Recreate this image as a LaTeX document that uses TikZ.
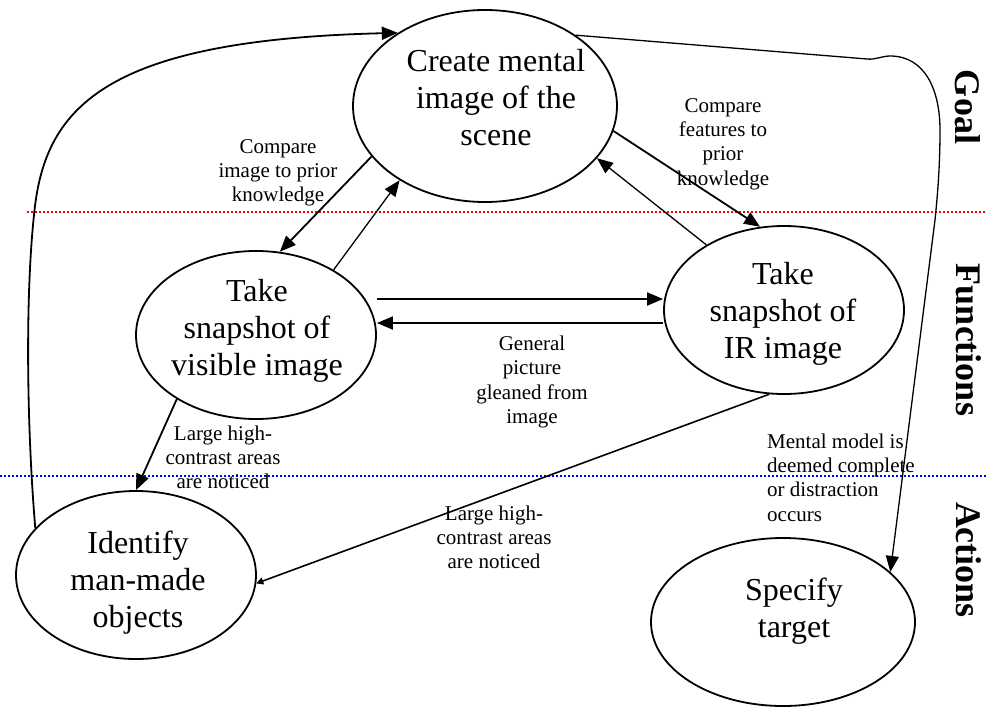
\documentclass[tikz,border=0pt]{standalone}
\usepackage{fontspec}
\setmainfont{Liberation Serif}
\usetikzlibrary{arrows.meta,shapes.geometric}
\begin{document}
\begin{tikzpicture}[x=1pt,y=-1pt,
  bubble/.style={draw,ellipse,line width=1.8pt,inner sep=0pt},
  bigtext/.style={align=center,inner sep=0pt,font=\fontsize{32}{37}\selectfont},
  note/.style={align=center,inner sep=0pt,font=\fontsize{21}{24.3}\selectfont},
  band/.style={rotate=-90,inner sep=0pt,font=\fontsize{36}{40}\selectfont\bfseries},
  flow/.style={line width=1.8pt,-{Triangle[length=16pt,width=13pt]}},
  thinflow/.style={line width=1.3pt,-{Triangle[length=16pt,width=13pt]}},
  smallflow/.style={line width=1.6pt,-{Triangle[length=7pt,width=7pt]}},
  reddiv/.style={red,line width=1.5pt,dash pattern=on 2pt off 2pt},
  bluediv/.style={blue,line width=1.5pt,dash pattern=on 2pt off 2pt}
]
\useasboundingbox (0,0) rectangle (986,707);

% level dividers
\coordinate (redL) at (27,212);  \coordinate (redR) at (986,212);
\coordinate (blueL) at (0,476);  \coordinate (blueR) at (986,476);
\draw[reddiv] (redL) -- (redR);
\draw[bluediv] (blueL) -- (blueR);

% level names
\node[band] (goal) at (968,107) {Goal};
\node[band] (functions) at (969,340) {Functions};
\node[band] (actions) at (969,560) {Actions};

% process bubbles
\node[bubble,minimum width=264pt,minimum height=192pt] (create) at (485,106) {};
\node[bigtext] (createtxt) at (496,98) {Create mental\\image of the\\scene};

\node[bubble,minimum width=240pt,minimum height=168pt] (vis) at (256,335) {};
\node[bigtext] (vistxt) at (257,330.5) {Take\\snapshot of\\visible image};

\node[bubble,minimum width=240pt,minimum height=168pt] (ir) at (784,310) {};
\node[bigtext] (irtxt) at (783,314) {Take\\snapshot of\\IR image};

\node[bubble,minimum width=240pt,minimum height=168pt] (id) at (136,575) {};
\node[bigtext] (idtxt) at (138,582.5) {Identify\\man-made\\objects};

\node[bubble,minimum width=264pt,minimum height=168pt] (spec) at (783,622) {};
\node[bigtext] (spectxt) at (794,611) {Specify\\target};

% connector labels
\node[note] (cmpimg) at (278,172.7) {Compare\\image to prior\\knowledge};
\node[note] (cmpfeat) at (723,144) {Compare\\features to\\prior\\knowledge};
\node[note] (general) at (532,382) {General\\picture\\gleaned from\\image};
\node[note] (largeL) at (223,457.4) {Large high-\\contrast areas\\are noticed};
\node[note] (largeR) at (494,537.3) {Large high-\\contrast areas\\are noticed};
\node[note,align=left,anchor=west] (mental) at (767,477.6) {Mental model is\\deemed complete\\or distraction\\occurs};

% feedback loop back to the mental image
\draw[flow] (id.155) .. controls (27,430) and (25,300) .. (34,215)
  .. controls (44,110) and (100,40) .. (create.140);

% completion path to the target
\draw[thinflow] (create.38) -- (867,59) .. controls (875,60) and (882,56) .. (890,56)
  .. controls (925,56) and (940,90) .. (940,130)
  .. controls (940,170) and (937,200) .. (935,220) -- (spec.25);

% exchanges with the mental image
\draw[flow] (create.204) -- (vis.74);
\draw[thinflow] (vis.40) -- (create.221);
\draw[flow] (create.-11) -- (ir.106);
\draw[thinflow] (ir.140) -- (create.-25);

% visible <-> IR
\coordinate (upper) at (0,299);
\coordinate (lower) at (0,323);
\draw[flow] (vis.east |- upper) -- (ir.west |- upper);
\draw[flow] (ir.west |- lower) -- (vis.east |- lower);

% snapshots to identification
\draw[flow] (vis.219) -- (id.north);
\draw[smallflow] (ir.260) -- (id.-4);
\end{tikzpicture}
\end{document}
